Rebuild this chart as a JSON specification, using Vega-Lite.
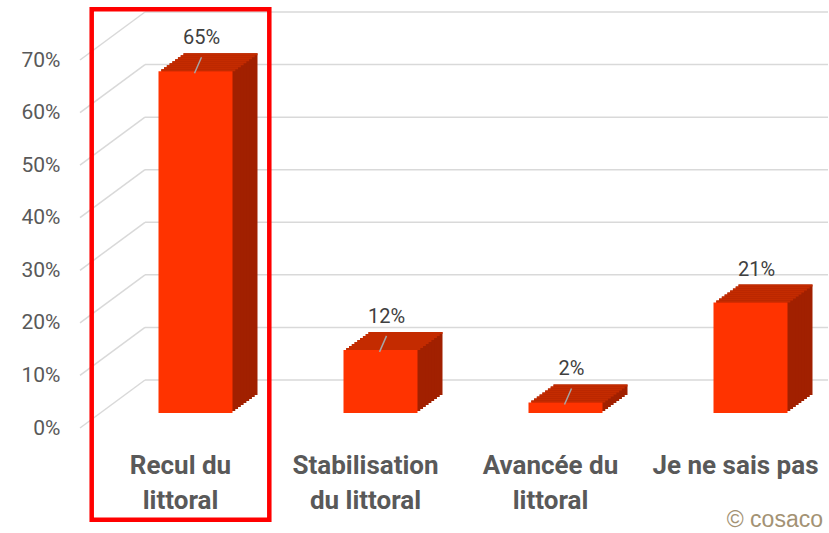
{
  "$schema": "https://vega.github.io/schema/vega-lite/v6.json",
  "width": 740,
  "height": 368,
  "autosize": "none",
  "padding": {"left": 88, "top": 12, "right": 1, "bottom": 153},
  "background": "#ffffff",
  "config": {"view": {"stroke": null}},
  "title": {"text": "© cosaco", "orient": "bottom", "anchor": "end", "frame": "group", "fontSize": 23, "font": "Liberation Sans", "fontWeight": "normal", "color": "#A39274", "offset": -13, "dx": -5},
  "datasets": {
    "main": [
      {"category": "Recul du littoral", "pct": 0.65},
      {"category": "Stabilisation du littoral", "pct": 0.12},
      {"category": "Avancée du littoral", "pct": 0.02},
      {"category": "Je ne sais pas", "pct": 0.21}
    ],
    "grid": [{"v": 0}, {"v": 0.1}, {"v": 0.2}, {"v": 0.3}, {"v": 0.4}, {"v": 0.5}, {"v": 0.6}, {"v": 0.7}],
    "highlight": [{"category": "Recul du littoral"}]
  },
  "data": {"name": "main"},
  "layer": [
    {
      "data": {"name": "grid"},
      "mark": {"type": "rule", "color": "#D9D9D9", "strokeWidth": 1.5, "xOffset": 57, "x2Offset": 92.5},
      "encoding": {
        "x": {"datum": "Recul du littoral", "type": "nominal", "bandPosition": 0},
        "x2": {"datum": "Je ne sais pas"},
        "y": {"field": "v", "type": "quantitative", "scale": {"domain": [0, 0.7], "nice": false, "zero": true}, "axis": {"orient": "left", "values": [0, 0.1, 0.2, 0.3, 0.4, 0.5, 0.6, 0.7], "format": ".0%", "grid": false, "domain": false, "ticks": false, "labelPadding": 28, "labelOffset": 48, "labelFont": "Roboto", "labelFontSize": 21, "labelColor": "#595959", "title": null}}
      }
    },
    {
      "data": {"name": "grid"},
      "mark": {"type": "rule", "color": "#D9D9D9", "strokeWidth": 1.5, "xOffset": -8, "x2Offset": -35.5, "yOffset": 48, "y2Offset": 0},
      "encoding": {
        "x": {"datum": "Recul du littoral", "type": "nominal", "bandPosition": 0},
        "x2": {"datum": "Recul du littoral"},
        "y": {"field": "v", "type": "quantitative"},
        "y2": {"field": "v"}
      }
    },
    {
      "mark": {"type": "bar", "color": "#A12000", "width": 74, "xOffset": 40, "x2Offset": 40, "yOffset": 15, "y2Offset": 15},
      "encoding": {
        "x": {"field": "category", "type": "nominal", "sort": null, "scale": {"domain": ["Recul du littoral", "Stabilisation du littoral", "Avancée du littoral", "Je ne sais pas"], "paddingInner": 0, "paddingOuter": 0}, "axis": {"orient": "bottom", "domain": false, "ticks": false, "labelAngle": 0, "labelAlign": "center", "labelPadding": 72, "labelFont": "Roboto", "labelFontSize": 26, "labelFontWeight": "bold", "labelColor": "#595959", "labelLineHeight": 35, "labelLimit": 400, "labelBaseline": "top", "labelExpr": "datum.value == 'Recul du littoral' ? ['Recul du', 'littoral'] : datum.value == 'Stabilisation du littoral' ? ['Stabilisation', 'du littoral'] : datum.value == 'Avancée du littoral' ? ['Avancée du', 'littoral'] : datum.value", "title": null}},
        "y": {"field": "pct", "type": "quantitative"}
      }
    },
    {"mark": {"type": "bar", "color": "#A12000", "width": 74, "xOffset": 37.22, "x2Offset": 37.22, "yOffset": 17, "y2Offset": 17}, "encoding": {"x": {"field": "category", "type": "nominal", "sort": null}, "y": {"field": "pct", "type": "quantitative"}}},
    {"mark": {"type": "bar", "color": "#A12000", "width": 74, "xOffset": 34.44, "x2Offset": 34.44, "yOffset": 19, "y2Offset": 19}, "encoding": {"x": {"field": "category", "type": "nominal", "sort": null}, "y": {"field": "pct", "type": "quantitative"}}},
    {"mark": {"type": "bar", "color": "#A12000", "width": 74, "xOffset": 31.67, "x2Offset": 31.67, "yOffset": 21, "y2Offset": 21}, "encoding": {"x": {"field": "category", "type": "nominal", "sort": null}, "y": {"field": "pct", "type": "quantitative"}}},
    {"mark": {"type": "bar", "color": "#A12000", "width": 74, "xOffset": 28.89, "x2Offset": 28.89, "yOffset": 23, "y2Offset": 23}, "encoding": {"x": {"field": "category", "type": "nominal", "sort": null}, "y": {"field": "pct", "type": "quantitative"}}},
    {"mark": {"type": "bar", "color": "#A12000", "width": 74, "xOffset": 26.11, "x2Offset": 26.11, "yOffset": 25, "y2Offset": 25}, "encoding": {"x": {"field": "category", "type": "nominal", "sort": null}, "y": {"field": "pct", "type": "quantitative"}}},
    {"mark": {"type": "bar", "color": "#A12000", "width": 74, "xOffset": 23.33, "x2Offset": 23.33, "yOffset": 27, "y2Offset": 27}, "encoding": {"x": {"field": "category", "type": "nominal", "sort": null}, "y": {"field": "pct", "type": "quantitative"}}},
    {"mark": {"type": "bar", "color": "#A12000", "width": 74, "xOffset": 20.56, "x2Offset": 20.56, "yOffset": 29, "y2Offset": 29}, "encoding": {"x": {"field": "category", "type": "nominal", "sort": null}, "y": {"field": "pct", "type": "quantitative"}}},
    {"mark": {"type": "bar", "color": "#A12000", "width": 74, "xOffset": 17.78, "x2Offset": 17.78, "yOffset": 31, "y2Offset": 31}, "encoding": {"x": {"field": "category", "type": "nominal", "sort": null}, "y": {"field": "pct", "type": "quantitative"}}},
    {"mark": {"type": "bar", "color": "#C42B00", "width": 74, "xOffset": 40, "x2Offset": 40, "yOffset": 15, "y2Offset": 17}, "encoding": {"x": {"field": "category", "type": "nominal", "sort": null}, "y": {"field": "pct", "type": "quantitative"}, "y2": {"field": "pct"}}},
    {"mark": {"type": "bar", "color": "#C42B00", "width": 74, "xOffset": 37.22, "x2Offset": 37.22, "yOffset": 17, "y2Offset": 19}, "encoding": {"x": {"field": "category", "type": "nominal", "sort": null}, "y": {"field": "pct", "type": "quantitative"}, "y2": {"field": "pct"}}},
    {"mark": {"type": "bar", "color": "#C42B00", "width": 74, "xOffset": 34.44, "x2Offset": 34.44, "yOffset": 19, "y2Offset": 21}, "encoding": {"x": {"field": "category", "type": "nominal", "sort": null}, "y": {"field": "pct", "type": "quantitative"}, "y2": {"field": "pct"}}},
    {"mark": {"type": "bar", "color": "#C42B00", "width": 74, "xOffset": 31.67, "x2Offset": 31.67, "yOffset": 21, "y2Offset": 23}, "encoding": {"x": {"field": "category", "type": "nominal", "sort": null}, "y": {"field": "pct", "type": "quantitative"}, "y2": {"field": "pct"}}},
    {"mark": {"type": "bar", "color": "#C42B00", "width": 74, "xOffset": 28.89, "x2Offset": 28.89, "yOffset": 23, "y2Offset": 25}, "encoding": {"x": {"field": "category", "type": "nominal", "sort": null}, "y": {"field": "pct", "type": "quantitative"}, "y2": {"field": "pct"}}},
    {"mark": {"type": "bar", "color": "#C42B00", "width": 74, "xOffset": 26.11, "x2Offset": 26.11, "yOffset": 25, "y2Offset": 27}, "encoding": {"x": {"field": "category", "type": "nominal", "sort": null}, "y": {"field": "pct", "type": "quantitative"}, "y2": {"field": "pct"}}},
    {"mark": {"type": "bar", "color": "#C42B00", "width": 74, "xOffset": 23.33, "x2Offset": 23.33, "yOffset": 27, "y2Offset": 29}, "encoding": {"x": {"field": "category", "type": "nominal", "sort": null}, "y": {"field": "pct", "type": "quantitative"}, "y2": {"field": "pct"}}},
    {"mark": {"type": "bar", "color": "#C42B00", "width": 74, "xOffset": 20.56, "x2Offset": 20.56, "yOffset": 29, "y2Offset": 31}, "encoding": {"x": {"field": "category", "type": "nominal", "sort": null}, "y": {"field": "pct", "type": "quantitative"}, "y2": {"field": "pct"}}},
    {"mark": {"type": "bar", "color": "#C42B00", "width": 74, "xOffset": 17.78, "x2Offset": 17.78, "yOffset": 31, "y2Offset": 33}, "encoding": {"x": {"field": "category", "type": "nominal", "sort": null}, "y": {"field": "pct", "type": "quantitative"}, "y2": {"field": "pct"}}},
    {
      "mark": {"type": "bar", "color": "#FF3300", "width": 74, "xOffset": 15, "x2Offset": 15, "yOffset": 33, "y2Offset": 33},
      "encoding": {"x": {"field": "category", "type": "nominal", "sort": null}, "y": {"field": "pct", "type": "quantitative"}}
    },
    {
      "transform": [{"filter": "datum.category != 'Je ne sais pas'"}],
      "mark": {"type": "rule", "color": "#A6A6A6", "strokeWidth": 1.5, "xOffset": 21, "x2Offset": 14, "yOffset": 19, "y2Offset": 35},
      "encoding": {"x": {"field": "category", "type": "nominal", "sort": null}, "x2": {"field": "category"}, "y": {"field": "pct", "type": "quantitative"}, "y2": {"field": "pct"}}
    },
    {
      "mark": {"type": "text", "font": "Roboto", "fontSize": 20, "color": "#404040", "baseline": "middle", "align": "center", "dx": 21, "dy": 0},
      "encoding": {"x": {"field": "category", "type": "nominal", "sort": null}, "y": {"field": "pct", "type": "quantitative"}, "text": {"field": "pct", "type": "quantitative", "format": ".0%"}}
    },
    {
      "data": {"name": "highlight"},
      "mark": {"type": "bar", "filled": false, "stroke": "#FF0000", "strokeWidth": 4.5, "width": {"band": 0.96}},
      "encoding": {"x": {"field": "category", "type": "nominal", "sort": null}, "y": {"datum": 0.705}, "y2": {"datum": -0.266}}
    }
  ]
}
